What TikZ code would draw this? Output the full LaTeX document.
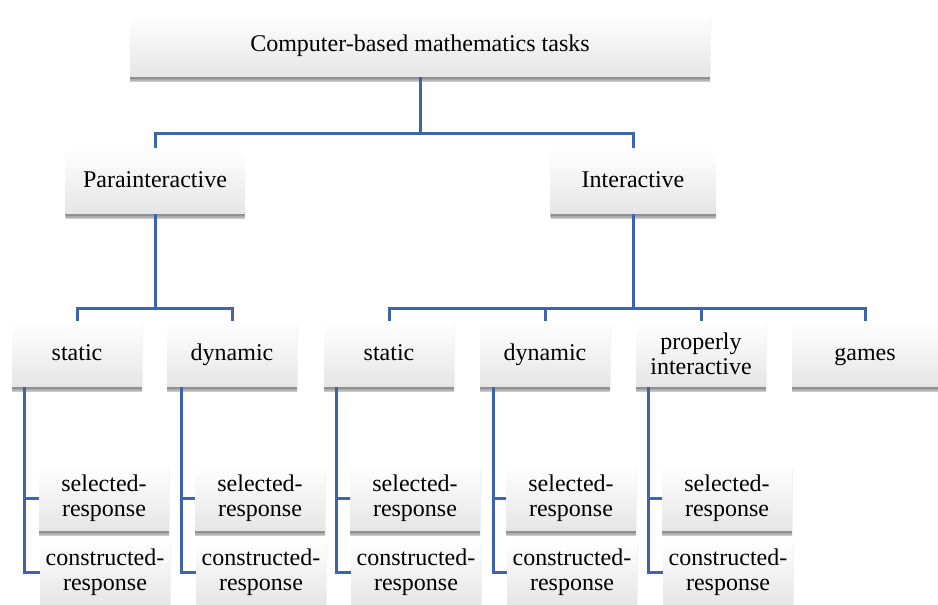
\documentclass[tikz,border=0pt]{standalone}
\usepackage{fontspec}
\setmainfont{Liberation Serif}
\usetikzlibrary{shadows}
\definecolor{linkblue}{RGB}{62,100,176}

\begin{document}
\begin{tikzpicture}[x=1pt,y=-1pt,
  soft/.style={drop shadow={shadow xshift=0pt, shadow yshift=-#1, opacity=0.18,
    top color=black!70, bottom color=black!70}},
  box/.style={top color=white, bottom color=black!10,
    soft=2pt, soft=3.5pt, soft=5pt,
    inner sep=2pt, align=center, font=\fontsize{24}{25.5}\selectfont,
    minimum height=65pt, minimum width=130pt},
  onebox/.style={box, text height=1.55em, text depth=0.22em},
  link/.style={draw=linkblue, line width=3pt}]
\useasboundingbox (0,0) rectangle (938,605);

% top level
\node[onebox, minimum width=580pt, minimum height=63pt] (root) at (420,45) {Computer-based mathematics tasks};
\node[onebox, minimum width=179pt] (para) at (155,181) {Parainteractive};
\node[onebox, minimum width=165pt] (inter) at (633,181) {Interactive};

% second level
\node[onebox] (sta1) at (77,354) {static};
\node[onebox] (dyn1) at (232,354) {dynamic};
\node[onebox] (sta2) at (389,354) {static};
\node[onebox] (dyn2) at (545,354) {dynamic};
\node[box] (prop) at (701,354) {properly\\interactive};
\node[onebox, minimum width=146pt] (games) at (865,354) {games};

% leaves
\node[box] (sel1) at (104,498) {selected-\\response};
\node[box] (con1) at (105,572) {constructed-\\response};
\node[box] (sel2) at (260,498) {selected-\\response};
\node[box] (con2) at (261,572) {constructed-\\response};
\node[box] (sel3) at (415,498) {selected-\\response};
\node[box] (con3) at (416,572) {constructed-\\response};
\node[box] (sel4) at (571,498) {selected-\\response};
\node[box] (con4) at (572,572) {constructed-\\response};
\node[box] (sel5) at (727,498) {selected-\\response};
\node[box] (con5) at (728,572) {constructed-\\response};

% junctions
\coordinate (j1) at (420,133);
\coordinate (j2) at (155,308);
\coordinate (j3) at (633,308);

\draw[link] (root.south) -- (j1) -| (para.north);
\draw[link] (j1) -| (inter.north);
\draw[link] (para.south) -- (j2) -| (sta1.north);
\draw[link] (j2) -| (dyn1.north);
\draw[link] (inter.south) -- (j3) -| (sta2.north);
\draw[link] (j3) -| (dyn2.north);
\draw[link] (j3) -| (prop.north);
\draw[link] (j3) -| (games.north);

\draw[link] ([xshift=13pt]sta1.south west) |- (sel1.west);
\draw[link] ([xshift=13pt]sta1.south west) |- (con1.west);
\draw[link] ([xshift=15pt]dyn1.south west) |- (sel2.west);
\draw[link] ([xshift=15pt]dyn1.south west) |- (con2.west);
\draw[link] ([xshift=13pt]sta2.south west) |- (sel3.west);
\draw[link] ([xshift=13pt]sta2.south west) |- (con3.west);
\draw[link] ([xshift=14pt]dyn2.south west) |- (sel4.west);
\draw[link] ([xshift=14pt]dyn2.south west) |- (con4.west);
\draw[link] ([xshift=13pt]prop.south west) |- (sel5.west);
\draw[link] ([xshift=13pt]prop.south west) |- (con5.west);
\end{tikzpicture}
\end{document}
